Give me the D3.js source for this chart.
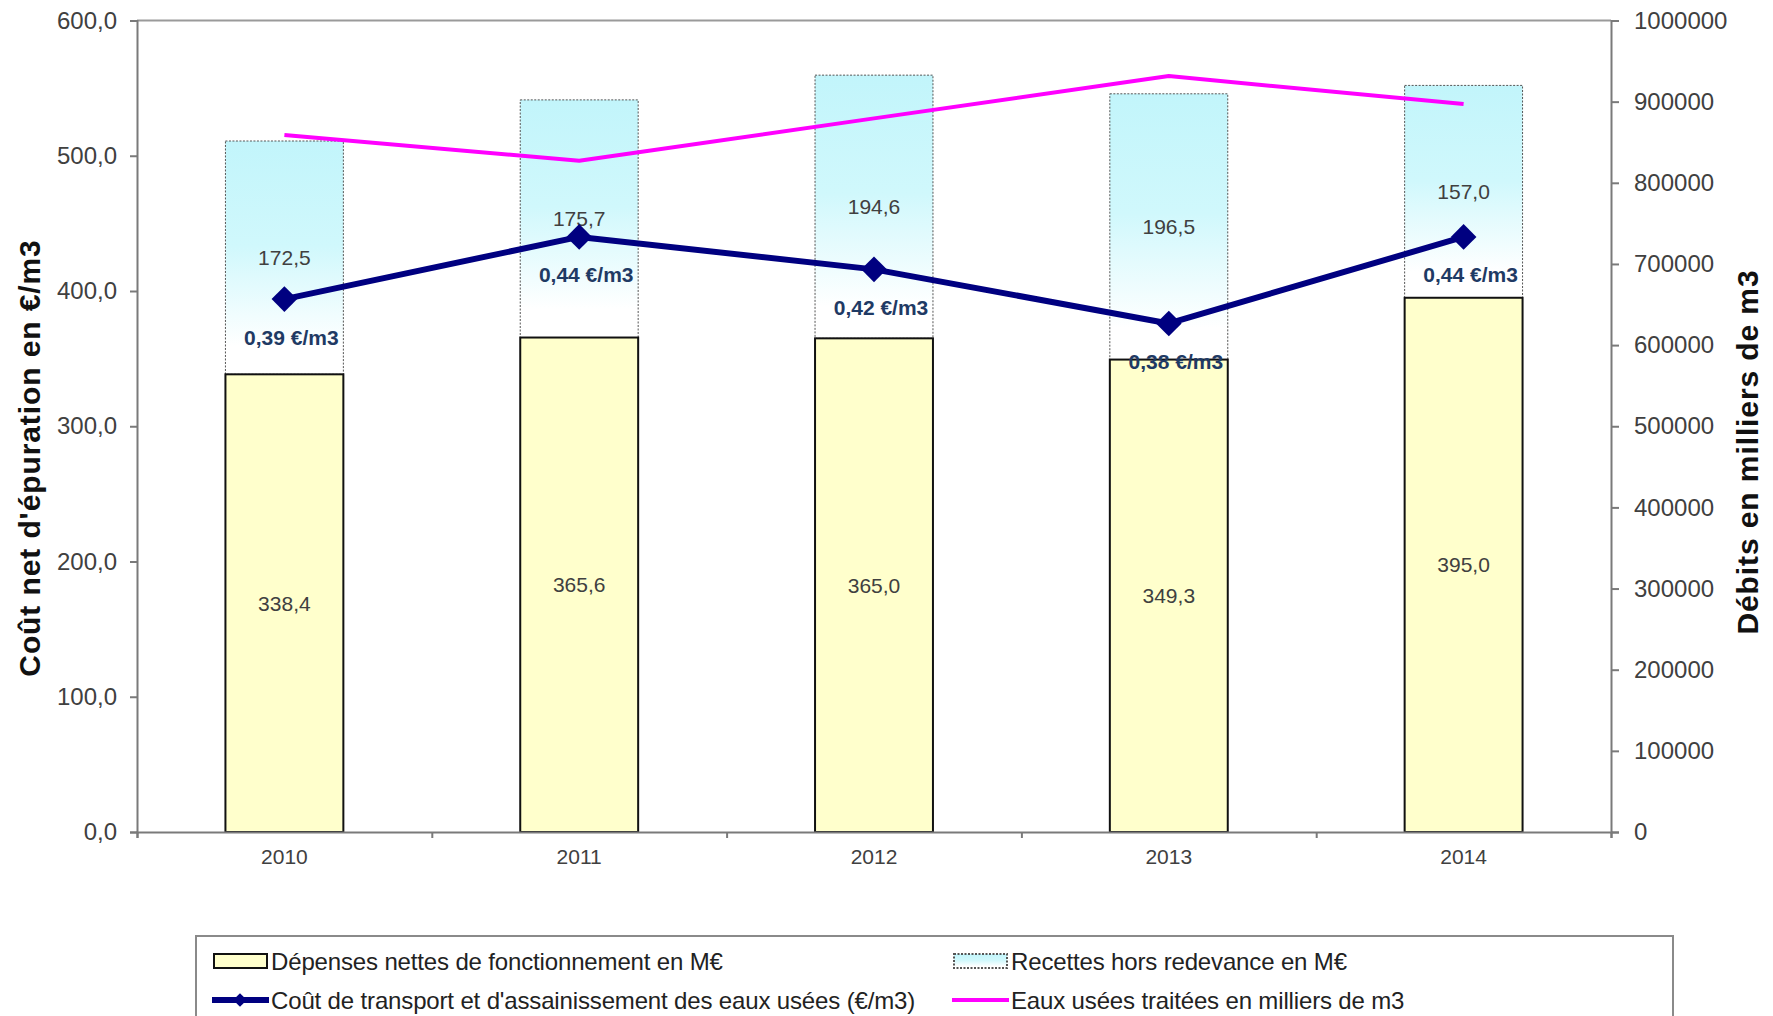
<!DOCTYPE html>
<html><head><meta charset="utf-8">
<script src="https://cdn.jsdelivr.net/npm/d3@7"></script>
<style>body{margin:0;background:#fff}svg{display:block;font-family:"Liberation Sans",Arial,sans-serif}</style>
</head><body>
<svg id="c" width="1773" height="1016"></svg>
<script>
const years = ["2010","2011","2012","2013","2014"];
const depenses = [338.4, 365.6, 365.0, 349.3, 395.0];
const recettes = [172.5, 175.7, 194.6, 196.5, 157.0];
const coutM3 = [0.394, 0.440, 0.416, 0.376, 0.440];
const eauxUsees = [858800, 827100, 879400, 931500, 897000];
const leftTicks = [0, 100, 200, 300, 400, 500, 600];
const rightTicks = [0, 100000, 200000, 300000, 400000, 500000, 600000, 700000, 800000, 900000, 1000000];
const legendLabels = ["Dépenses nettes de fonctionnement en M€", "Recettes hors redevance en M€",
  "Coût de transport et d'assainissement des eaux usées (€/m3)", "Eaux usées traitées en milliers de m3"];

const svg = d3.select("#c");
const L = 137, R = 1611, T = 20.5, B = 832;

const x = d3.scaleBand().domain(years).range([L, R]).paddingInner(0.6).paddingOuter(0.3);
const xb = d3.scaleLinear().domain([0, years.length]).range([L, R]);
const yL = d3.scaleLinear().domain([0, 600]).range([B, T]);
const yC = d3.scaleLinear().domain([0, 0.6]).range([B, T]);
const yR = d3.scaleLinear().domain([0, 1000000]).range([B, T]);

const defs = svg.append("defs");
const g = defs.append("linearGradient").attr("id", "cy").attr("x1", 0).attr("y1", 0).attr("x2", 0).attr("y2", 1);
g.append("stop").attr("offset", 0).attr("stop-color", "#c2f5fb");
g.append("stop").attr("offset", 0.45).attr("stop-color", "#d0f8fc");
g.append("stop").attr("offset", 0.88).attr("stop-color", "#ffffff");

// frame top line
svg.append("line").attr("x1", L).attr("x2", R).attr("y1", T).attr("y2", T).attr("stroke", "#9a9a9a").attr("stroke-width", 2);

// bars
const data = years.map((y, i) => ({y, d: depenses[i], r: recettes[i], c: coutM3[i], e: eauxUsees[i]}));
svg.selectAll(".rec").data(data).join("rect")
  .attr("x", d => x(d.y)).attr("width", x.bandwidth())
  .attr("y", d => yL(d.d + d.r)).attr("height", d => yL(d.d) - yL(d.d + d.r))
  .attr("fill", "url(#cy)").attr("stroke", "#555").attr("stroke-width", 1).attr("stroke-dasharray", "2,1.5");
svg.selectAll(".dep").data(data).join("rect")
  .attr("x", d => x(d.y)).attr("width", x.bandwidth())
  .attr("y", d => yL(d.d)).attr("height", d => yL(0) - yL(d.d))
  .attr("fill", "#ffffcc").attr("stroke", "#111").attr("stroke-width", 2);

const fmt1 = v => d3.format(".1f")(v).replace(".", ",");
// bar labels
svg.selectAll(".ld").data(data).join("text")
  .attr("x", d => x(d.y) + x.bandwidth() / 2).attr("y", d => yL(d.d / 2))
  .attr("text-anchor", "middle").attr("dominant-baseline", "central")
  .attr("font-size", 21).attr("fill", "#404040").text(d => fmt1(d.d));
svg.selectAll(".lr").data(data).join("text")
  .attr("x", d => x(d.y) + x.bandwidth() / 2).attr("y", d => yL(d.d + d.r / 2))
  .attr("text-anchor", "middle").attr("dominant-baseline", "central")
  .attr("font-size", 21).attr("fill", "#404040").text(d => fmt1(d.r));

// axes
const axL = svg.append("g").attr("transform", `translate(${L},0)`)
  .call(d3.axisLeft(yL).tickValues(leftTicks).tickSize(7).tickPadding(13).tickFormat(fmt1));
const axR = svg.append("g").attr("transform", `translate(${R},0)`)
  .call(d3.axisRight(yR).tickValues(rightTicks).tickSize(8).tickPadding(15).tickFormat(d3.format("d")));
const axB = svg.append("g").attr("transform", `translate(0,${B})`)
  .call(d3.axisBottom(x).tickSize(0).tickPadding(17));
const axBt = svg.append("g").attr("transform", `translate(0,${B})`)
  .call(d3.axisBottom(xb).tickValues(d3.range(years.length + 1)).tickSize(6).tickFormat(""));
[axL, axR, axB, axBt].forEach(a => {
  a.selectAll("path,line").attr("stroke", "#7a7a7a").attr("stroke-width", 2);
  a.selectAll("text").attr("font-size", 24).attr("fill", "#404040").attr("font-family", "Liberation Sans, Arial, sans-serif");
});
axB.selectAll("text").attr("font-size", 21);
axB.select("path").remove();

// pink line
const lineE = d3.line().x(d => x(d.y) + x.bandwidth() / 2).y(d => yR(d.e));
svg.append("path").datum(data).attr("d", lineE).attr("fill", "none")
  .attr("stroke", "#ff00ff").attr("stroke-width", 4).attr("stroke-linejoin", "round");

// navy line
const lineC = d3.line().x(d => x(d.y) + x.bandwidth() / 2).y(d => yC(d.c));
svg.append("path").datum(data).attr("d", lineC).attr("fill", "none")
  .attr("stroke", "#000080").attr("stroke-width", 6).attr("stroke-linejoin", "round");
const diamond = d3.symbol().type(d3.symbolDiamond2).size(420);
svg.selectAll(".mk").data(data).join("path")
  .attr("transform", d => `translate(${x(d.y) + x.bandwidth() / 2},${yC(d.c)})`)
  .attr("d", diamond).attr("fill", "#000080");
svg.selectAll(".lc").data(data).join("text")
  .attr("x", d => x(d.y) + x.bandwidth() / 2 + 7).attr("y", d => yC(d.c) + 38)
  .attr("text-anchor", "middle").attr("dominant-baseline", "central")
  .attr("font-size", 21).attr("font-weight", "bold").attr("fill", "#1f3a64")
  .text(d => d.c.toFixed(2).replace(".", ",") + " €/m3");

// axis titles
svg.append("text").attr("transform", "translate(29,458) rotate(-90)")
  .attr("text-anchor", "middle").attr("dominant-baseline", "central")
  .attr("font-size", 30).attr("letter-spacing", 0.9).attr("font-weight", "bold").attr("fill", "#111")
  .text("Coût net d'épuration en €/m3");
svg.append("text").attr("transform", "translate(1747,452) rotate(-90)")
  .attr("text-anchor", "middle").attr("dominant-baseline", "central")
  .attr("font-size", 30).attr("letter-spacing", 0.9).attr("font-weight", "bold").attr("fill", "#111")
  .text("Débits en milliers de m3");

// legend
const lg = svg.append("g");
lg.append("rect").attr("x", 196).attr("y", 936).attr("width", 1477).attr("height", 120)
  .attr("fill", "#fff").attr("stroke", "#8a8a8a").attr("stroke-width", 2);
const rows = [961, 1000], cols = [212, 952];
const items = [
  {c: 0, r: 0, t: "rect", fill: "#ffffcc", stroke: "#111", dash: null},
  {c: 1, r: 0, t: "rect", fill: "url(#cy)", stroke: "#555", dash: "2,1.5"},
  {c: 0, r: 1, t: "line", stroke: "#000080", w: 6, mk: true},
  {c: 1, r: 1, t: "line", stroke: "#ff00ff", w: 4, mk: false}
];
items.forEach((it, i) => {
  const x0 = cols[it.c], yy = rows[it.r];
  if (it.t === "rect") {
    lg.append("rect").attr("x", x0 + 2).attr("y", yy - 7).attr("width", 53).attr("height", 14)
      .attr("fill", it.fill).attr("stroke", it.stroke).attr("stroke-width", 2)
      .attr("stroke-dasharray", it.dash);
  } else {
    lg.append("line").attr("x1", x0).attr("x2", x0 + 57).attr("y1", yy).attr("y2", yy)
      .attr("stroke", it.stroke).attr("stroke-width", it.w);
    if (it.mk) lg.append("path").attr("transform", `translate(${x0 + 28},${yy})`)
      .attr("d", d3.symbol().type(d3.symbolDiamond2).size(120)).attr("fill", it.stroke);
  }
  lg.append("text").attr("x", x0 + 59).attr("y", yy).attr("dominant-baseline", "central")
    .attr("font-size", 24).attr("fill", "#222").attr("letter-spacing", -0.15).text(legendLabels[i]);
});
</script>
</body></html>
